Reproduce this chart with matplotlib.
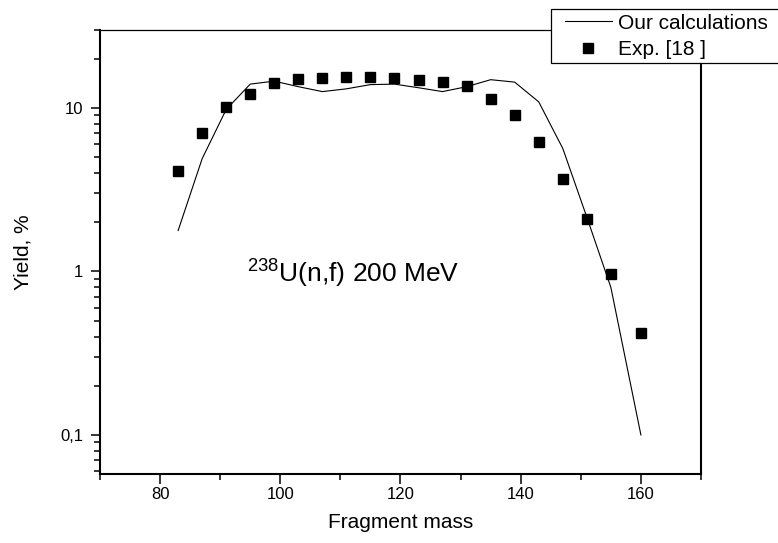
import matplotlib
matplotlib.use("Agg")
import matplotlib.pyplot as plt
from matplotlib.ticker import FixedLocator, FixedFormatter, NullFormatter
from matplotlib.legend_handler import HandlerLine2D

plt.rcParams['font.family'] = ['Liberation Sans', 'DejaVu Sans']
plt.rcParams['mathtext.fontset'] = 'custom'
plt.rcParams['mathtext.rm'] = 'Liberation Sans'
plt.rcParams['mathtext.it'] = 'Liberation Sans'

# Calculated fission-fragment mass yields
mass_calc = [83, 87, 91, 95, 99, 103, 107, 111, 115, 119, 123, 127, 131,
             135, 139, 143, 147, 151, 155, 160]
yield_calc = [1.78, 4.9, 9.8, 14.0, 14.6, 13.5, 12.6, 13.1, 13.9, 14.0, 13.3,
              12.6, 13.5, 14.9, 14.4, 10.9, 5.66, 2.15, 0.80, 0.10]

# Experimental yields
mass_exp = [83, 87, 91, 95, 99, 103, 107, 111, 115, 119, 123, 127, 131,
            135, 139, 143, 147, 151, 155, 160]
yield_exp = [4.14, 7.0, 10.1, 12.2, 14.2, 15.0, 15.3, 15.5, 15.5, 15.2, 14.8,
             14.4, 13.6, 11.4, 9.0, 6.2, 3.7, 2.08, 0.96, 0.42]

x_ticks = [80, 100, 120, 140, 160]
y_ticks = [0.1, 1, 10]
y_tick_labels = ["0,1", "1", "10"]

W, H = 778, 543
fig = plt.figure(figsize=(W / 100, H / 100), dpi=100)
ax = fig.add_axes([100 / W, 1 - 474 / H, 601 / W, 444 / H])

line, = ax.plot(mass_calc, yield_calc, color='black', lw=0.8,
                label='Our calculations')
pts, = ax.plot(mass_exp, yield_exp, ls='none', marker='s', ms=6.5,
               color='black', mec='black', label='Exp. [18 ]')

ax.set_yscale('log')
ax.set_xlim(70, 170)
ax.set_ylim(0.0577, 30)

ax.xaxis.set_major_locator(FixedLocator(x_ticks))
ax.xaxis.set_minor_locator(FixedLocator([70, 90, 110, 130, 150, 170]))
ax.yaxis.set_major_locator(FixedLocator(y_ticks))
ax.yaxis.set_major_formatter(FixedFormatter(y_tick_labels))
ax.yaxis.set_minor_formatter(NullFormatter())

ax.tick_params(axis='x', which='major', direction='out', length=7,
               width=1.1, labelsize=12, top=False, pad=2.5)
ax.tick_params(axis='y', which='major', direction='out', length=6.5,
               width=1.1, labelsize=12, right=False, pad=5.5)
ax.tick_params(axis='both', which='minor', direction='out', length=4,
               width=1.1, top=False, right=False)

for side in ('left', 'bottom', 'right'):
    ax.spines[side].set_linewidth(1.5)
ax.spines['top'].set_linewidth(0.9)

ax.set_xlabel('Fragment mass', fontsize=15)
ax.xaxis.set_label_coords(0.5, -0.088)
ax.set_ylabel('Yield, %', fontsize=15)
ax.yaxis.set_label_coords(-0.112, 0.5)

ax.text(94.5, 0.85, r'$^{238}$U(n,f) 200 MeV', fontsize=19,
        ha='left', va='baseline')

leg_fs = 15
hpad = HandlerLine2D(xpad=0.43)
leg = fig.legend(handles=[line, pts], loc='upper left',
                 bbox_to_anchor=(551 / W, 1 - 9 / H, 260 / W, 0.0),
                 mode='expand', bbox_transform=fig.transFigure,
                 fontsize=leg_fs, frameon=True, fancybox=False, shadow=False,
                 borderpad=0.22, borderaxespad=0.0, handlelength=2.72,
                 handletextpad=0.29, labelspacing=0.35, numpoints=1,
                 handler_map={line: hpad, pts: hpad})
frame = leg.get_frame()
frame.set_edgecolor('black')
frame.set_linewidth(0.9)
frame.set_alpha(1.0)

fig.savefig('out.png', dpi=100)
